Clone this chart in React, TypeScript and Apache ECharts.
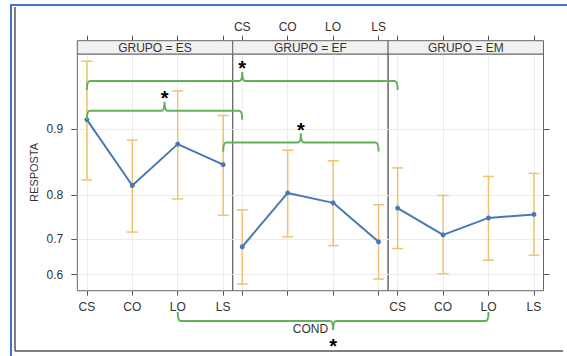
import React, { useEffect, useRef } from 'react';
import * as echarts from 'echarts';

// ---------- data ----------
const groups = ['ES', 'EF', 'EM'];
const conds = ['CS', 'CO', 'LO', 'LS'];
const meanES = [0.910, 0.818, 0.882, 0.853];
const lowES = [0.828, 0.717, 0.792, 0.757];
const highES = [0.954, 0.887, 0.935, 0.914];
const meanEF = [0.679, 0.804, 0.784, 0.692];
const lowEF = [0.572, 0.705, 0.682, 0.587];
const highEF = [0.769, 0.874, 0.859, 0.780];
const meanEM = [0.773, 0.710, 0.751, 0.759];
const lowEM = [0.674, 0.603, 0.642, 0.656];
const highEM = [0.848, 0.799, 0.834, 0.839];
const yTicks = [0.6, 0.7, 0.8, 0.9];
const xName = 'COND';
const yName = 'RESPOSTA';
const stripPrefix = 'GRUPO = ';
// significance brackets
const bracketStart = [['ES', 'CS'], ['ES', 'CS'], ['ES', 'LS'], ['ES', 'LO']];
const bracketEnd = [['EM', 'CS'], ['EF', 'CS'], ['EF', 'LS'], ['EM', 'LO']];
const bracketLevel = [0.942, 0.9185, 0.884, 0.459];
const bracketSide = ['top', 'top', 'top', 'bottom'];
const bracketMark = ['*', '*', '*', '*'];

// ---------- layout / style ----------
const PL = 77.3, PT = 54, PW = 155.4, PH = 236.7, STRIP = 13.3;
const X_MIN = 0.79, X_MAX = 4.21;
const Y_MIN = 0.2087, Y_MAX = 3.12;
const FONT = 'Liberation Sans, Arial, sans-serif';
const TXT = '#333333';
const BLUE = '#4a78b4';
const ORANGE = '#efc36f';
const GREEN = '#62b05a';
const GRIDC = '#ebebeb';
const BORDER = '#666666';

const logit = (p: number) => Math.log(p / (1 - p));
const invLogit = (v: number) => 1 / (1 + Math.exp(-v));

const means = [meanES, meanEF, meanEM];
const lows = [lowES, lowEF, lowEM];
const highs = [highES, highEF, highEM];
const catPos = conds.map((_, i) => i + 1);

export default function App() {
  const ref = useRef<HTMLDivElement>(null);
  useEffect(() => {
    if (!ref.current) return;
    const chart = echarts.init(ref.current, undefined, { renderer: 'svg' });
    const panelSpan = X_MAX - X_MIN;
    const gx = (g: string, c: string) => groups.indexOf(g) * panelSpan + conds.indexOf(c) + 1;

    const grids: any[] = groups.map((_, i) => ({
      left: PL + i * PW, top: PT, width: PW, height: PH,
      show: true, borderColor: BORDER, borderWidth: 1, backgroundColor: 'transparent',
    }));
    grids.push({ left: PL, top: PT, width: 3 * PW, height: PH, show: false });

    const tickStyle = { color: '#555', width: 1 };
    const labelStyle = { fontSize: 12, color: TXT, fontFamily: FONT };
    const xAxes: any[] = [];
    groups.forEach((_, i) => {
      xAxes.push({
        type: 'value', gridIndex: i, min: X_MIN, max: X_MAX, position: 'bottom',
        axisLine: { show: false },
        axisTick: { show: true, customValues: catPos, length: 5, lineStyle: tickStyle },
        axisLabel: { show: i !== 1, customValues: catPos, formatter: (v: number) => conds[Math.round(v) - 1], margin: 10, ...labelStyle },
        splitLine: { show: true, lineStyle: { color: GRIDC, width: 1 } },
      });
    });
    groups.forEach((_, i) => {
      xAxes.push({
        type: 'value', gridIndex: i, min: X_MIN, max: X_MAX, position: 'top', offset: STRIP,
        axisLine: { show: false },
        axisTick: { show: true, customValues: catPos, length: 5, lineStyle: tickStyle },
        axisLabel: { show: i === 1, customValues: catPos, formatter: (v: number) => conds[Math.round(v) - 1], margin: 8, ...labelStyle },
        splitLine: { show: false },
      });
    });
    xAxes.push({
      type: 'value', gridIndex: 3, min: X_MIN, max: X_MIN + 3 * panelSpan,
      axisLine: { show: false }, axisTick: { show: false }, axisLabel: { show: false }, splitLine: { show: false },
      name: xName, nameLocation: 'middle', nameGap: 32,
      nameTextStyle: { fontSize: 12, color: TXT, fontFamily: FONT },
    });

    const yTickVals = yTicks.map(logit);
    const yAxes: any[] = [
      {
        type: 'value', gridIndex: 0, min: Y_MIN, max: Y_MAX, position: 'left',
        axisLine: { show: false },
        axisTick: { show: true, customValues: yTickVals, length: 6, lineStyle: tickStyle },
        axisLabel: { show: true, customValues: yTickVals, formatter: (v: number) => invLogit(v).toFixed(1), margin: 14, ...labelStyle },
        splitLine: { show: true, lineStyle: { color: GRIDC, width: 1 } },
        name: yName, nameLocation: 'middle', nameGap: 38, nameRotate: 90,
        nameTextStyle: { fontSize: 11, color: TXT, fontFamily: FONT },
      },
      {
        type: 'value', gridIndex: 1, min: Y_MIN, max: Y_MAX,
        axisLine: { show: false },
        axisTick: { show: false, customValues: yTickVals },
        axisLabel: { show: false, customValues: yTickVals },
        splitLine: { show: true, lineStyle: { color: GRIDC, width: 1 } },
      },
      {
        type: 'value', gridIndex: 2, min: Y_MIN, max: Y_MAX, position: 'right',
        axisLine: { show: false },
        axisTick: { show: true, customValues: yTickVals, length: 6, lineStyle: tickStyle },
        axisLabel: { show: false, customValues: yTickVals },
        splitLine: { show: true, lineStyle: { color: GRIDC, width: 1 } },
      },
      { type: 'value', gridIndex: 3, min: Y_MIN, max: Y_MAX, show: false },
    ];

    const series: any[] = [];
    groups.forEach((_, i) => {
      series.push({
        type: 'custom', xAxisIndex: i, yAxisIndex: i, z: 2,
        data: conds.map((_, j) => [j + 1, logit(lows[i][j]), logit(highs[i][j])]),
        encode: { x: 0, y: [1, 2] },
        renderItem: (params: any, api: any) => {
          const x = api.value(0);
          const pLo = api.coord([x, api.value(1)]);
          const pHi = api.coord([x, api.value(2)]);
          const w = 5.5;
          const st = { stroke: ORANGE, lineWidth: 1.5 };
          return {
            type: 'group', children: [
              { type: 'line', shape: { x1: pLo[0], y1: pLo[1], x2: pHi[0], y2: pHi[1] }, style: st },
              { type: 'line', shape: { x1: pLo[0] - w, y1: pLo[1], x2: pLo[0] + w, y2: pLo[1] }, style: st },
              { type: 'line', shape: { x1: pHi[0] - w, y1: pHi[1], x2: pHi[0] + w, y2: pHi[1] }, style: st },
            ],
          };
        },
      });
      series.push({
        type: 'line', xAxisIndex: i, yAxisIndex: i, z: 3,
        data: conds.map((_, j) => [j + 1, logit(means[i][j])]),
        symbol: 'circle', symbolSize: 5,
        lineStyle: { color: BLUE, width: 2 },
        itemStyle: { color: BLUE },
      });
    });

    series.push({
      type: 'custom', xAxisIndex: 6, yAxisIndex: 3, z: 5, clip: false,
      data: bracketLevel.map((lv, k) => [gx(bracketStart[k][0], bracketStart[k][1]), gx(bracketEnd[k][0], bracketEnd[k][1]), logit(lv), k]),
      renderItem: (params: any, api: any) => {
        const k = api.value(3);
        const p1 = api.coord([api.value(0), api.value(2)]);
        const p2 = api.coord([api.value(1), api.value(2)]);
        const s = bracketSide[k] === 'top' ? 1 : -1;
        const x1 = p1[0], x2 = p2[0], y0 = p1[1], xm = (x1 + x2) / 2;
        const d = 9 * s, t = 9 * s, r = 3;
        const path = `M${x1},${y0 + d} Q${x1},${y0} ${x1 + r},${y0} L${xm - r},${y0} Q${xm},${y0} ${xm},${y0 - t} Q${xm},${y0} ${xm + r},${y0} L${x2 - r},${y0} Q${x2},${y0} ${x2},${y0 + d}`;
        const starY = s > 0 ? y0 - 17 : y0 + 21;
        return {
          type: 'group', children: [
            { type: 'path', shape: { pathData: path }, style: { stroke: GREEN, lineWidth: 2, fill: 'none' } },
            {
              type: 'text', x: xm, y: starY + 4,
              style: { text: bracketMark[k], fill: '#000', font: `bold 20px ${FONT}`, align: 'center', verticalAlign: 'middle', textAlign: 'center', textVerticalAlign: 'middle' },
            },
          ],
        };
      },
    });

    const graphics: any[] = [];
    groups.forEach((g, i) => {
      graphics.push({
        type: 'rect', z: 10,
        shape: { x: PL + i * PW, y: PT - STRIP, width: PW, height: STRIP },
        style: { fill: '#f0f0f0', stroke: BORDER, lineWidth: 1 },
      });
      graphics.push({
        type: 'text', z: 11, x: PL + i * PW + PW / 2, y: PT - STRIP / 2 + 0.5,
        style: { text: stripPrefix + g, fill: TXT, font: `12px ${FONT}`, align: 'center', verticalAlign: 'middle', textAlign: 'center', textVerticalAlign: 'middle' },
      });
    });
    // frame
    graphics.push({ type: 'line', shape: { x1: 11, y1: 5, x2: 567, y2: 5 }, style: { stroke: '#4472c4', lineWidth: 2 } });
    graphics.push({ type: 'line', shape: { x1: 11, y1: 4, x2: 11, y2: 356 }, style: { stroke: '#4472c4', lineWidth: 2 } });
    graphics.push({ type: 'line', shape: { x1: 15, y1: 7, x2: 15, y2: 351 }, style: { stroke: '#555', lineWidth: 1.5 } });
    graphics.push({ type: 'line', shape: { x1: 15, y1: 351, x2: 563, y2: 351 }, style: { stroke: '#555', lineWidth: 1.5 } });

    chart.setOption({
      animation: false,
      backgroundColor: '#ffffff',
      textStyle: { fontFamily: FONT },
      grid: grids,
      xAxis: xAxes,
      yAxis: yAxes,
      series,
      graphic: graphics,
    });
    return () => chart.dispose();
  }, []);
  return <div ref={ref} style={{ position: 'fixed', left: 0, top: 0, width: 567, height: 356 }} />;
}
